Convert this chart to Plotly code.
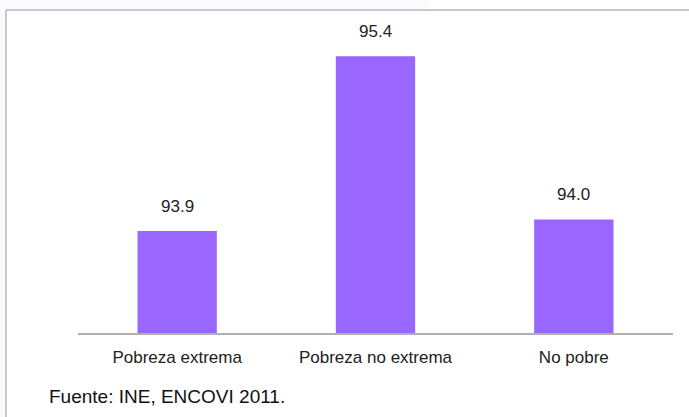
import plotly.graph_objects as go

# Share of population by poverty status (ENCOVI 2011)
categories = ["Pobreza extrema", "Pobreza no extrema", "No pobre"]
values = [93.9, 95.4, 94.0]
value_labels = ["93.9", "95.4", "94.0"]
source_note = "Fuente: INE, ENCOVI 2011."

W, H = 689, 417
M_L, M_R, M_T, M_B = 78, 16, 30, 84
PW, PH = W - M_L - M_R, H - M_T - M_B


def px_x(p):
    return (p - M_L) / PW


def px_y(p):
    return (H - M_B - p) / PH


FONT = "Liberation Sans, Arial, sans-serif"
BAR = "#9966ff"

fig = go.Figure(
    go.Bar(
        x=categories,
        y=values,
        marker=dict(color=BAR, line=dict(width=0)),
        hoverinfo="skip",
    )
)

# value labels above each bar
for cat, val, lab in zip(categories, values, value_labels):
    fig.add_annotation(
        x=cat, y=val, text=lab, showarrow=False,
        yanchor="middle", yshift=25,
        font=dict(family=FONT, size=17, color="#222222"),
    )

fig.add_annotation(
    xref="paper", yref="paper", x=px_x(47), y=px_y(397),
    xanchor="left", yanchor="middle", text=source_note, showarrow=False,
    font=dict(family=FONT, size=19, color="#111111"),
)

# faint page tint and the frame around the chart
tint = "#fcf9ff"
frame = "#c8c8c8"
fig.add_shape(type="rect", xref="paper", yref="paper", layer="below",
              x0=px_x(0), x1=px_x(5), y0=px_y(H), y1=px_y(0),
              fillcolor=tint, line=dict(width=0))
fig.add_shape(type="rect", xref="paper", yref="paper", layer="below",
              x0=px_x(0), x1=px_x(428), y0=px_y(9), y1=px_y(0),
              fillcolor=tint, line=dict(width=0))
fig.add_shape(type="line", xref="paper", yref="paper",
              x0=px_x(6), x1=px_x(W + 2), y0=px_y(10), y1=px_y(10),
              line=dict(color=frame, width=2))
fig.add_shape(type="line", xref="paper", yref="paper",
              x0=px_x(6), x1=px_x(6), y0=px_y(10), y1=px_y(H + 2),
              line=dict(color=frame, width=2))

fig.update_layout(
    width=W, height=H,
    margin=dict(l=M_L, r=M_R, t=M_T, b=M_B),
    paper_bgcolor="white", plot_bgcolor="white",
    bargap=0.6, showlegend=False,
    font=dict(family=FONT, color="#222222"),
    xaxis=dict(
        showline=True, linecolor="#b0b0b0", linewidth=2,
        showgrid=False, zeroline=False, ticks="",
        tickfont=dict(family=FONT, size=17, color="#222222"),
        ticklabelstandoff=8,
    ),
    yaxis=dict(range=[93.025, 95.625], visible=False, showgrid=False),
)

fig.write_html("out.html")
